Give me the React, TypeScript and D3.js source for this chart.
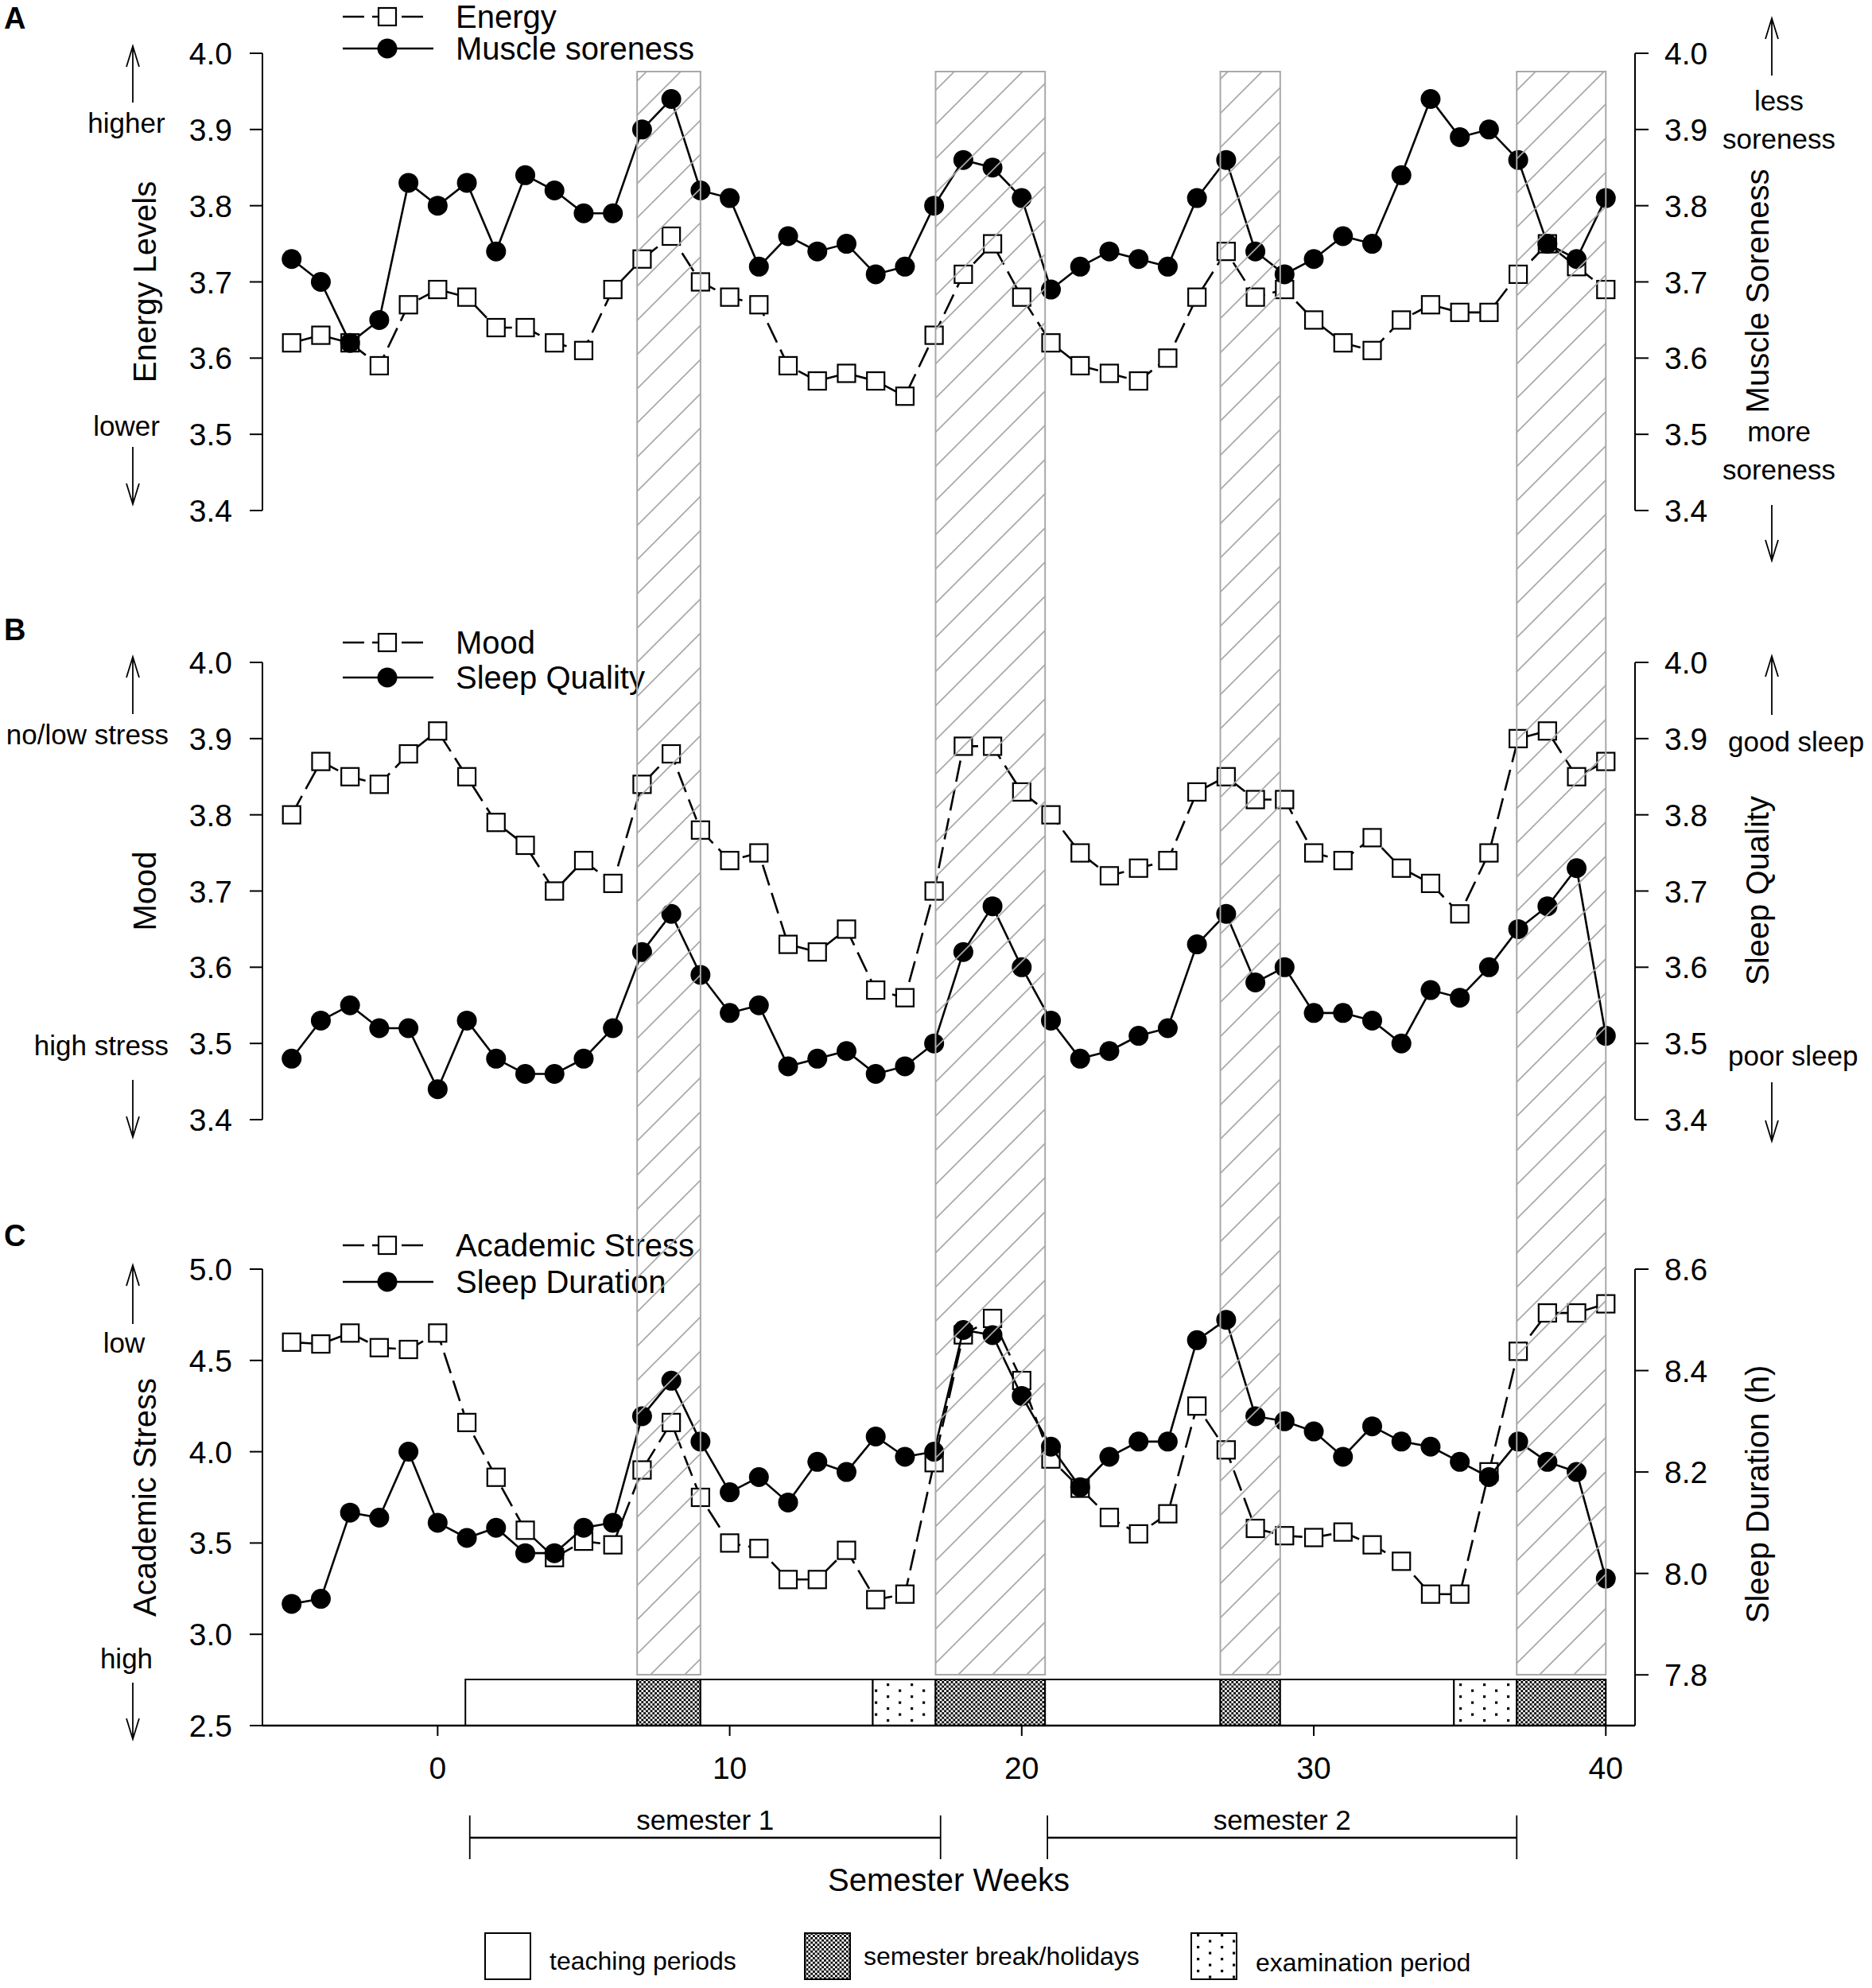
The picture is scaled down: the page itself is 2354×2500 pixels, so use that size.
import { useEffect, useRef } from 'react';
import * as d3 from 'd3';

const W = 2354;
const H = 2500;
const FONT = 'Liberation Sans, Arial, sans-serif';

// semester weeks (x)
const weeks = [-5, -4, -3, -2, -1, 0, 1, 2, 3, 4, 5, 6, 7, 8, 9, 10, 11, 12, 13, 14, 15, 16, 17, 18, 19, 20, 21, 22, 23,
  24, 25, 26, 27, 28, 29, 30, 31, 32, 33, 34, 35, 36, 37, 38, 39, 40];

// panel A
const energy = [3.62, 3.63, 3.62, 3.59, 3.67, 3.69, 3.68, 3.64, 3.64, 3.62, 3.61, 3.69, 3.73, 3.76, 3.70, 3.68, 3.67,
  3.59, 3.57, 3.58, 3.57, 3.55, 3.63, 3.71, 3.75, 3.68, 3.62, 3.59, 3.58, 3.57, 3.60, 3.68, 3.74, 3.68, 3.69, 3.65,
  3.62, 3.61, 3.65, 3.67, 3.66, 3.66, 3.71, 3.75, 3.72, 3.69];
const muscleSoreness = [3.73, 3.70, 3.62, 3.65, 3.83, 3.80, 3.83, 3.74, 3.84, 3.82, 3.79, 3.79, 3.90, 3.94, 3.82, 3.81,
  3.72, 3.76, 3.74, 3.75, 3.71, 3.72, 3.80, 3.86, 3.85, 3.81, 3.69, 3.72, 3.74, 3.73, 3.72, 3.81, 3.86, 3.74, 3.71,
  3.73, 3.76, 3.75, 3.84, 3.94, 3.89, 3.90, 3.86, 3.75, 3.73, 3.81];

// panel B
const mood = [3.80, 3.87, 3.85, 3.84, 3.88, 3.91, 3.85, 3.79, 3.76, 3.70, 3.74, 3.71, 3.84, 3.88, 3.78, 3.74, 3.75,
  3.63, 3.62, 3.65, 3.57, 3.56, 3.70, 3.89, 3.89, 3.83, 3.80, 3.75, 3.72, 3.73, 3.74, 3.83, 3.85, 3.82, 3.82, 3.75,
  3.74, 3.77, 3.73, 3.71, 3.67, 3.75, 3.90, 3.91, 3.85, 3.87];
const sleepQuality = [3.48, 3.53, 3.55, 3.52, 3.52, 3.44, 3.53, 3.48, 3.46, 3.46, 3.48, 3.52, 3.62, 3.67, 3.59, 3.54,
  3.55, 3.47, 3.48, 3.49, 3.46, 3.47, 3.50, 3.62, 3.68, 3.60, 3.53, 3.48, 3.49, 3.51, 3.52, 3.63, 3.67, 3.58, 3.60,
  3.54, 3.54, 3.53, 3.50, 3.57, 3.56, 3.60, 3.65, 3.68, 3.73, 3.51];

// panel C
const academicStress = [4.60, 4.59, 4.65, 4.57, 4.56, 4.65, 4.16, 3.86, 3.57, 3.42, 3.51, 3.49, 3.90, 4.16, 3.75, 3.50,
  3.47, 3.30, 3.30, 3.46, 3.19, 3.22, 3.94, 4.64, 4.73, 4.39, 3.96, 3.80, 3.64, 3.55, 3.66, 4.25, 4.01, 3.58, 3.54,
  3.53, 3.56, 3.49, 3.40, 3.22, 3.22, 3.89, 4.55, 4.76, 4.76, 4.81];
const sleepDuration = [7.94, 7.95, 8.12, 8.11, 8.24, 8.10, 8.07, 8.09, 8.04, 8.04, 8.09, 8.10, 8.31, 8.38, 8.26, 8.16,
  8.19, 8.14, 8.22, 8.20, 8.27, 8.23, 8.24, 8.48, 8.47, 8.35, 8.25, 8.17, 8.23, 8.26, 8.26, 8.46, 8.50, 8.31, 8.30,
  8.28, 8.23, 8.29, 8.26, 8.25, 8.22, 8.19, 8.26, 8.22, 8.20, 7.99];

// ticks
const abTicks = [3.4, 3.5, 3.6, 3.7, 3.8, 3.9, 4.0];
const stressTicks = [2.5, 3.0, 3.5, 4.0, 4.5, 5.0];
const durationTicks = [7.8, 8.0, 8.2, 8.4, 8.6];
const xTicks = [0, 10, 20, 30, 40];

// calendar (week boundaries)
const periodStarts = [0.95, 6.83, 9.0, 14.9, 17.05, 20.8, 26.8, 28.85, 34.8, 36.95];
const periodEnds = [6.83, 9.0, 14.9, 17.05, 20.8, 26.8, 28.85, 34.8, 36.95, 40.0];
const periodTypes = ['teaching', 'break', 'teaching', 'exam', 'break', 'teaching', 'break', 'teaching', 'exam', 'break'];

const semesterLabels = ['semester 1', 'semester 2'];
const semesterStarts = [1.1, 20.88];
const semesterEnds = [17.22, 36.95];

const legendLabels = ['teaching periods', 'semester break/holidays', 'examination period'];
const legendTypes = ['teaching', 'break', 'exam'];

const fillFor: Record<string, string> = { teaching: '#fff', break: 'url(#checker)', exam: 'url(#dots)' };

const panels = [
  {
    letter: 'A', letterY: 36, top: 67, bottom: 642,
    left: [3.4, 4.0], leftTicks: abTicks, right: [3.4, 4.0], rightTicks: abTicks,
    sq: energy, dot: muscleSoreness, sqName: 'Energy', dotName: 'Muscle soreness', legendY: [21, 61],
    leftTitle: 'Energy Levels', rightTitle: 'Muscle Soreness', rightTitleY: 366,
    leftArrows: [58, 129, 562, 634],
    leftNotes: [{ t: 'higher', x: 159, y: 167, a: 'middle' }, { t: 'lower', x: 159, y: 548, a: 'middle' }],
    rightArrows: [23, 95, 635, 705],
    rightNotes: [
      { t: 'less', x: 2237, y: 139, a: 'middle' }, { t: 'soreness', x: 2237, y: 187, a: 'middle' },
      { t: 'more', x: 2237, y: 555, a: 'middle' }, { t: 'soreness', x: 2237, y: 603, a: 'middle' },
    ],
  },
  {
    letter: 'B', letterY: 805, top: 833, bottom: 1408,
    left: [3.4, 4.0], leftTicks: abTicks, right: [3.4, 4.0], rightTicks: abTicks,
    sq: mood, dot: sleepQuality, sqName: 'Mood', dotName: 'Sleep Quality', legendY: [808, 852],
    leftTitle: 'Mood', rightTitle: 'Sleep Quality', rightTitleY: 1120,
    leftArrows: [826, 898, 1358, 1430],
    leftNotes: [{ t: 'no/low stress', x: 212, y: 936, a: 'end' }, { t: 'high stress', x: 212, y: 1327, a: 'end' }],
    rightArrows: [825, 899, 1361, 1435],
    rightNotes: [{ t: 'good sleep', x: 2173, y: 945, a: 'start' }, { t: 'poor sleep', x: 2173, y: 1340, a: 'start' }],
  },
  {
    letter: 'C', letterY: 1567, top: 1596, bottom: 2170,
    left: [2.5, 5.0], leftTicks: stressTicks, right: [7.7, 8.6], rightTicks: durationTicks,
    sq: academicStress, dot: sleepDuration, sqName: 'Academic Stress', dotName: 'Sleep Duration', legendY: [1566, 1612],
    leftTitle: 'Academic Stress', rightTitle: 'Sleep Duration (h)', rightTitleY: 1879,
    leftArrows: [1591, 1665, 2116, 2187],
    leftNotes: [{ t: 'low', x: 156, y: 1701, a: 'middle' }, { t: 'high', x: 159, y: 2098, a: 'middle' }],
    rightArrows: null as number[] | null,
    rightNotes: [] as { t: string; x: number; y: number; a: string }[],
  },
];

export default function App() {
  const svgRef = useRef<SVGSVGElement>(null);

  useEffect(() => {
    document.body.style.margin = '0';
    if (!svgRef.current) return;
    const svg = d3.select(svgRef.current);
    svg.selectAll('*').remove();

    const x = d3.scaleLinear().domain([-6, 41]).range([330, 2056]);
    const axL = 330, axR = 2056;
    const fmt = d3.format('.1f');

    const defs = svg.append('defs');
    const hatch = defs.append('pattern').attr('id', 'hatch').attr('patternUnits', 'userSpaceOnUse')
      .attr('width', 43).attr('height', 43);
    hatch.append('path').attr('d', 'M0,43 L43,0 M-10,10 L10,-10 M33,53 L53,33')
      .attr('stroke', '#a8a8a8').attr('stroke-width', 1.7).attr('fill', 'none');
    const checker = defs.append('pattern').attr('id', 'checker').attr('patternUnits', 'userSpaceOnUse')
      .attr('width', 5.6).attr('height', 5.6);
    checker.append('rect').attr('width', 5.6).attr('height', 5.6).attr('fill', '#fff');
    checker.append('rect').attr('width', 2.8).attr('height', 2.8).attr('fill', '#000');
    checker.append('rect').attr('x', 2.8).attr('y', 2.8).attr('width', 2.8).attr('height', 2.8).attr('fill', '#000');
    const dots = defs.append('pattern').attr('id', 'dots').attr('patternUnits', 'userSpaceOnUse')
      .attr('width', 30).attr('height', 15);
    dots.append('rect').attr('width', 30).attr('height', 15).attr('fill', '#fff');
    dots.append('rect').attr('x', 5).attr('y', 2).attr('width', 3.2).attr('height', 3.2).attr('fill', '#000');
    dots.append('rect').attr('x', 20).attr('y', 9.5).attr('width', 3.2).attr('height', 3.2).attr('fill', '#000');

    const g = svg.append('g').attr('font-family', FONT);

    const arrow = (cx: number, tail: number, tip: number) => {
      const dir = tip < tail ? 1 : -1;
      g.append('line').attr('x1', cx).attr('x2', cx).attr('y1', tail).attr('y2', tip)
        .attr('stroke', '#000').attr('stroke-width', 1.8);
      g.append('path').attr('d', `M${cx - 8},${tip + dir * 26} L${cx},${tip} L${cx + 8},${tip + dir * 26}`)
        .attr('fill', 'none').attr('stroke', '#000').attr('stroke-width', 1.8);
    };

    panels.forEach(p => {
      const yL = d3.scaleLinear().domain(p.left).range([p.bottom, p.top]);
      const yR = d3.scaleLinear().domain(p.right).range([p.bottom, p.top]);
      const yTop = p.top, yBot = p.bottom;

      // left axis
      g.append('line').attr('x1', axL).attr('x2', axL).attr('y1', yL(p.leftTicks[0]))
        .attr('y2', yL(p.leftTicks[p.leftTicks.length - 1])).attr('stroke', '#000').attr('stroke-width', 2);
      p.leftTicks.forEach(t => {
        g.append('line').attr('x1', axL - 16).attr('x2', axL).attr('y1', yL(t)).attr('y2', yL(t))
          .attr('stroke', '#000').attr('stroke-width', 2);
        g.append('text').attr('x', 292).attr('y', yL(t) + 14).attr('text-anchor', 'end')
          .attr('font-size', 39).text(fmt(t));
      });
      // right axis
      g.append('line').attr('x1', axR).attr('x2', axR).attr('y1', yBot)
        .attr('y2', yR(p.rightTicks[p.rightTicks.length - 1])).attr('stroke', '#000').attr('stroke-width', 2);
      p.rightTicks.forEach(t => {
        g.append('line').attr('x1', axR).attr('x2', axR + 17).attr('y1', yR(t)).attr('y2', yR(t))
          .attr('stroke', '#000').attr('stroke-width', 2);
        g.append('text').attr('x', 2093).attr('y', yR(t) + 14).attr('font-size', 39).text(fmt(t));
      });

      // titles
      g.append('text').attr('transform', `translate(196,${(yTop + yBot) / 2}) rotate(-90)`)
        .attr('text-anchor', 'middle').attr('font-size', 40).text(p.leftTitle);
      g.append('text').attr('transform', `translate(2224,${p.rightTitleY}) rotate(-90)`)
        .attr('text-anchor', 'middle').attr('font-size', 40).text(p.rightTitle);
      g.append('text').attr('x', 5).attr('y', p.letterY).attr('font-size', 38).attr('font-weight', 'bold')
        .text(p.letter);

      // side notes
      arrow(167, p.leftArrows[1], p.leftArrows[0]);
      arrow(167, p.leftArrows[2], p.leftArrows[3]);
      p.leftNotes.forEach(n => g.append('text').attr('x', n.x).attr('y', n.y).attr('text-anchor', n.a)
        .attr('font-size', 35).text(n.t));
      if (p.rightArrows) {
        arrow(2228, p.rightArrows[1], p.rightArrows[0]);
        arrow(2228, p.rightArrows[2], p.rightArrows[3]);
      }
      p.rightNotes.forEach(n => g.append('text').attr('x', n.x).attr('y', n.y).attr('text-anchor', n.a)
        .attr('font-size', 35).text(n.t));

      // series: dashed squares on left scale, solid circles on right scale
      const sqLine = d3.line<number>().x((_, i) => x(weeks[i])).y(v => yL(v));
      const dotLine = d3.line<number>().x((_, i) => x(weeks[i])).y(v => yR(v));
      g.append('path').attr('d', sqLine(p.sq)).attr('fill', 'none').attr('stroke', '#000')
        .attr('stroke-width', 2.6).attr('stroke-dasharray', '27 10');
      g.selectAll(null).data(p.sq).join('rect')
        .attr('x', (_, i) => x(weeks[i]) - 11).attr('y', d => yL(d) - 11)
        .attr('width', 22).attr('height', 22).attr('fill', '#fff').attr('stroke', '#000').attr('stroke-width', 2.2);
      g.append('path').attr('d', dotLine(p.dot)).attr('fill', 'none').attr('stroke', '#000')
        .attr('stroke-width', 2.6);
      g.selectAll(null).data(p.dot).join('circle')
        .attr('cx', (_, i) => x(weeks[i])).attr('cy', d => yR(d)).attr('r', 12.5).attr('fill', '#000');

      // legend
      const [ly1, ly2] = p.legendY;
      g.append('line').attr('x1', 431).attr('x2', 533).attr('y1', ly1).attr('y2', ly1)
        .attr('stroke', '#000').attr('stroke-width', 2.6).attr('stroke-dasharray', '27 10');
      g.append('rect').attr('x', 476).attr('y', ly1 - 11).attr('width', 22).attr('height', 22)
        .attr('fill', '#fff').attr('stroke', '#000').attr('stroke-width', 2.2);
      g.append('text').attr('x', 573).attr('y', ly1 + 14).attr('font-size', 40).text(p.sqName);
      g.append('line').attr('x1', 431).attr('x2', 545).attr('y1', ly2).attr('y2', ly2)
        .attr('stroke', '#000').attr('stroke-width', 2.6);
      g.append('circle').attr('cx', 487).attr('cy', ly2).attr('r', 12.5).attr('fill', '#000');
      g.append('text').attr('x', 573).attr('y', ly2 + 14).attr('font-size', 40).text(p.dotName);
    });

    // calendar bar at the bottom of panel C
    const barTop = 2112, barBot = 2170;
    periodTypes.forEach((t, i) => {
      g.append('rect').attr('x', x(periodStarts[i])).attr('y', barTop)
        .attr('width', x(periodEnds[i]) - x(periodStarts[i])).attr('height', barBot - barTop)
        .attr('fill', fillFor[t]).attr('stroke', '#000').attr('stroke-width', 2);
    });

    // x axis
    g.append('line').attr('x1', axL).attr('x2', axR).attr('y1', barBot).attr('y2', barBot)
      .attr('stroke', '#000').attr('stroke-width', 2.4);
    xTicks.forEach(t => {
      g.append('line').attr('x1', x(t)).attr('x2', x(t)).attr('y1', barBot).attr('y2', barBot + 13)
        .attr('stroke', '#000').attr('stroke-width', 2);
      g.append('text').attr('x', x(t)).attr('y', 2237).attr('text-anchor', 'middle').attr('font-size', 39)
        .text(String(t));
    });

    // hatched break bands across all panels
    periodTypes.forEach((t, i) => {
      if (t !== 'break') return;
      g.append('rect').attr('x', x(periodStarts[i])).attr('y', 90)
        .attr('width', x(periodEnds[i]) - x(periodStarts[i])).attr('height', 2106 - 90)
        .attr('fill', 'url(#hatch)').attr('stroke', '#a8a8a8').attr('stroke-width', 2);
    });

    // semester brackets
    semesterLabels.forEach((lab, i) => {
      const x1 = x(semesterStarts[i]), x2 = x(semesterEnds[i]);
      g.append('line').attr('x1', x1).attr('x2', x2).attr('y1', 2311).attr('y2', 2311)
        .attr('stroke', '#000').attr('stroke-width', 2.4);
      [x1, x2].forEach(xx => g.append('line').attr('x1', xx).attr('x2', xx).attr('y1', 2283).attr('y2', 2338)
        .attr('stroke', '#000').attr('stroke-width', 1.8));
      g.append('text').attr('x', (x1 + x2) / 2).attr('y', 2301).attr('text-anchor', 'middle')
        .attr('font-size', 35).text(lab);
    });
    g.append('text').attr('x', (axL + axR) / 2).attr('y', 2378).attr('text-anchor', 'middle')
      .attr('font-size', 40).text('Semester Weeks');

    // period legend
    const boxX = [610, 1012, 1498];
    const textX = [691, 1086, 1579];
    const textY = [2477, 2471, 2479];
    legendTypes.forEach((t, i) => {
      g.append('rect').attr('x', boxX[i]).attr('y', 2431).attr('width', 57).attr('height', 58)
        .attr('fill', fillFor[t]).attr('stroke', '#000').attr('stroke-width', 2);
      g.append('text').attr('x', textX[i]).attr('y', textY[i]).attr('font-size', 32).text(legendLabels[i]);
    });
  }, []);

  return <svg ref={svgRef} width={W} height={H} style={{ display: 'block', background: '#fff' }} />;
}
